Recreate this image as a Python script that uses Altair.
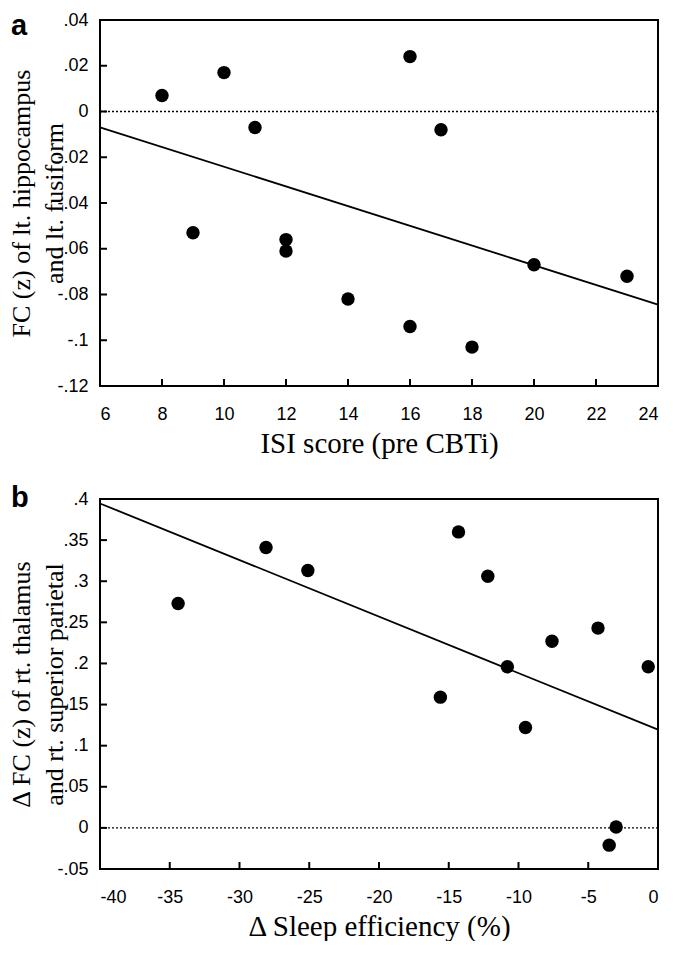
import altair as alt
import pandas as pd

# Panel a data
isi_score = [8, 9, 10, 11, 12, 12, 14, 16, 16, 17, 18, 20, 23]
fc_hippo_fusiform = [0.007, -0.053, 0.017, -0.007, -0.056, -0.061, -0.082, 0.024, -0.094, -0.008, -0.103, -0.067, -0.072]

# Panel b data
delta_sleep_eff = [-34.4, -28.1, -25.1, -15.6, -14.3, -12.2, -10.8, -9.5, -7.6, -4.3, -3.5, -3.0, -0.7]
delta_fc_thal_par = [0.273, 0.341, 0.313, 0.159, 0.360, 0.306, 0.196, 0.122, 0.227, 0.243, -0.021, 0.001, 0.196]

xa_ticks = [6, 8, 10, 12, 14, 16, 18, 20, 22, 24]
ya_ticks = [-0.12, -0.1, -0.08, -0.06, -0.04, -0.02, 0, 0.02, 0.04]
xb_ticks = [-40, -35, -30, -25, -20, -15, -10, -5, 0]
yb_ticks = [-0.05, 0, 0.05, 0.1, 0.15, 0.2, 0.25, 0.3, 0.35, 0.4]

LABEL_FONT = "Liberation Sans"
TITLE_FONT = "Liberation Serif"
xlab_expr = "replace(format(datum.value, '~g'), '\u2212', '-')"
ylab_expr = "replace(replace(format(datum.value, '~g'), '\u2212', '-'), '0.', '.')"


def axis_common(**kw):
    return alt.Axis(
        grid=False,
        domain=False,
        ticks=False,
        labelFont=LABEL_FONT,
        labelFontSize=18,
        labelColor="black",
        titleFont=TITLE_FONT,
        titleFontWeight="normal",
        titleColor="black",
        **kw,
    )


def panel(xs, ys, xdom, ydom, xticks, yticks, xtitle, ytitle, letter, letter_y, w, h):
    df = pd.DataFrame({"x": xs, "y": ys})
    xaxis = axis_common(values=xticks, title=xtitle, labelPadding=19, titlePadding=6,
                        titleFontSize=29, labelExpr=xlab_expr)
    yaxis = axis_common(
        values=yticks,
        title=ytitle,
        labelPadding=12,
        labelExpr=ylab_expr,
        titleFontSize=26,
        titleAngle=270,
        titleBaseline="top",
        titleAlign="center",
        titleLineHeight=33,
        titleX=-92,
        titleY=h / 2,
    )
    xenc = alt.X("x:Q", scale=alt.Scale(domain=xdom, nice=False, zero=False), axis=xaxis)
    yenc = alt.Y("y:Q", scale=alt.Scale(domain=ydom, nice=False, zero=False), axis=yaxis)
    base = alt.Chart(df).encode(x=xenc, y=yenc)

    # plot frame
    frame = alt.Chart(pd.DataFrame({"f": [0]})).mark_rect(
        fill=None, fillOpacity=0, stroke="black", strokeWidth=2
    ).encode(x=alt.value(0), x2=alt.value(w), y=alt.value(0), y2=alt.value(h))
    # inward tick marks
    xt = alt.Chart(pd.DataFrame({"x": xticks})).mark_rule(color="black", strokeWidth=2).encode(
        x=xenc, y=alt.value(h), y2=alt.value(h - 7)
    )
    yt = alt.Chart(pd.DataFrame({"y": yticks})).mark_rule(color="black", strokeWidth=2).encode(
        y=yenc, x=alt.value(0), x2=alt.value(7)
    )
    zero_line = alt.Chart(pd.DataFrame({"y": [0]})).mark_rule(
        color="black", strokeWidth=1.3, strokeDash=[2, 2]
    ).encode(y=yenc)
    fit = base.transform_regression("x", "y", extent=xdom).mark_line(color="black", strokeWidth=1.8)
    pts = base.mark_circle(size=180, color="black", opacity=1)
    tag = alt.Chart(pd.DataFrame({"t": [letter]})).mark_text(
        font="Liberation Sans", fontSize=29, fontWeight="bold", color="black",
        align="left", baseline="alphabetic"
    ).encode(text="t:N", x=alt.value(-89), y=alt.value(letter_y))
    return alt.layer(zero_line, xt, yt, fit, pts, frame, tag).properties(width=w, height=h)


pa = panel(isi_score, fc_hippo_fusiform, [6, 24], [-0.12, 0.04], xa_ticks, ya_ticks,
           "ISI score (pre CBTi)", ["FC (z) of lt. hippocampus", "and lt. fusiform"], "a", 15, 558, 366)
pb = panel(delta_sleep_eff, delta_fc_thal_par, [-40, 0], [-0.05, 0.4], xb_ticks, yb_ticks,
           "Δ Sleep efficiency (%)", ["Δ FC (z) of rt. thalamus", "and rt. superior parietal"], "b", 8, 558, 370)

chart = alt.vconcat(pa, pb, spacing=26).properties(
    padding={"top": 3, "left": 0, "right": 0, "bottom": 0}, background="white"
).configure_view(strokeWidth=0)

chart.save("out.html", embed_options={"renderer": "svg", "actions": False})
